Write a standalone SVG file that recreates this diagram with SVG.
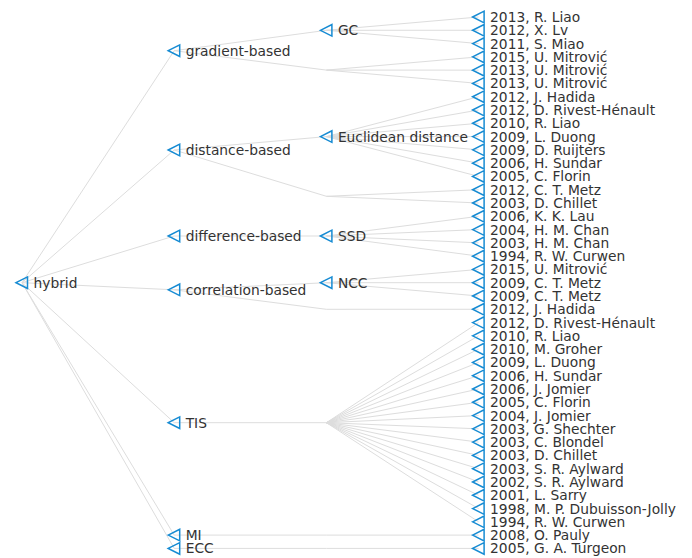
<svg xmlns="http://www.w3.org/2000/svg" xmlns:xlink="http://www.w3.org/1999/xlink" width="692" height="558" viewBox="0 0 692 558">
<style>
.link{stroke:#dddddd;stroke-width:1;fill:none}
.sym{fill:none;stroke:#168bd3;stroke-width:1.5;stroke-linejoin:miter}
text{font-family:"DejaVu Sans","Verdana",sans-serif;font-size:13.8px;fill:#333333}
</style>
<defs>
<path id="tri" class="sym" d="M-6,0 L5.5,-5.8 L5.5,5.8 Z"/>
</defs>
<rect width="692" height="558" fill="#ffffff"/>
<g id="connectors" class="link">
<line x1="22" y1="282.7" x2="174.2" y2="50.7"/>
<line x1="22" y1="282.7" x2="174.2" y2="150"/>
<line x1="22" y1="282.7" x2="174.2" y2="236"/>
<line x1="22" y1="282.7" x2="174.2" y2="289.8"/>
<line x1="22" y1="282.7" x2="174.2" y2="422.7"/>
<line x1="22" y1="282.7" x2="174.2" y2="535.1"/>
<line x1="22" y1="282.7" x2="174.2" y2="548.4"/>
<line x1="174.2" y1="50.7" x2="326.4" y2="30.3"/>
<line x1="174.2" y1="50.7" x2="326.4" y2="70.1"/>
<line x1="174.2" y1="150" x2="326.4" y2="136.6"/>
<line x1="174.2" y1="150" x2="326.4" y2="196.3"/>
<line x1="174.2" y1="236" x2="326.4" y2="236"/>
<line x1="174.2" y1="289.8" x2="326.4" y2="282.7"/>
<line x1="174.2" y1="289.8" x2="326.4" y2="309.3"/>
<line x1="174.2" y1="422.7" x2="326.4" y2="422.7"/>
<line x1="174.2" y1="535.1" x2="326.4" y2="535.1"/>
<line x1="174.2" y1="548.4" x2="326.4" y2="548.4"/>
<line x1="326.4" y1="30.3" x2="478.6" y2="17.0"/>
<line x1="326.4" y1="30.3" x2="478.6" y2="30.29"/>
<line x1="326.4" y1="30.3" x2="478.6" y2="43.57"/>
<line x1="326.4" y1="70.1" x2="478.6" y2="56.86"/>
<line x1="326.4" y1="70.1" x2="478.6" y2="70.14"/>
<line x1="326.4" y1="70.1" x2="478.6" y2="83.43"/>
<line x1="326.4" y1="136.6" x2="478.6" y2="96.71"/>
<line x1="326.4" y1="136.6" x2="478.6" y2="110.0"/>
<line x1="326.4" y1="136.6" x2="478.6" y2="123.28"/>
<line x1="326.4" y1="136.6" x2="478.6" y2="136.57"/>
<line x1="326.4" y1="136.6" x2="478.6" y2="149.85"/>
<line x1="326.4" y1="136.6" x2="478.6" y2="163.14"/>
<line x1="326.4" y1="136.6" x2="478.6" y2="176.42"/>
<line x1="326.4" y1="196.3" x2="478.6" y2="189.71"/>
<line x1="326.4" y1="196.3" x2="478.6" y2="202.99"/>
<line x1="326.4" y1="236" x2="478.6" y2="216.28"/>
<line x1="326.4" y1="236" x2="478.6" y2="229.56"/>
<line x1="326.4" y1="236" x2="478.6" y2="242.85"/>
<line x1="326.4" y1="236" x2="478.6" y2="256.13"/>
<line x1="326.4" y1="282.7" x2="478.6" y2="269.42"/>
<line x1="326.4" y1="282.7" x2="478.6" y2="282.7"/>
<line x1="326.4" y1="282.7" x2="478.6" y2="295.99"/>
<line x1="326.4" y1="309.3" x2="478.6" y2="309.27"/>
<line x1="326.4" y1="422.7" x2="478.6" y2="322.56"/>
<line x1="326.4" y1="422.7" x2="478.6" y2="335.84"/>
<line x1="326.4" y1="422.7" x2="478.6" y2="349.13"/>
<line x1="326.4" y1="422.7" x2="478.6" y2="362.41"/>
<line x1="326.4" y1="422.7" x2="478.6" y2="375.70"/>
<line x1="326.4" y1="422.7" x2="478.6" y2="388.98"/>
<line x1="326.4" y1="422.7" x2="478.6" y2="402.27"/>
<line x1="326.4" y1="422.7" x2="478.6" y2="415.55"/>
<line x1="326.4" y1="422.7" x2="478.6" y2="428.84"/>
<line x1="326.4" y1="422.7" x2="478.6" y2="442.12"/>
<line x1="326.4" y1="422.7" x2="478.6" y2="455.41"/>
<line x1="326.4" y1="422.7" x2="478.6" y2="468.69"/>
<line x1="326.4" y1="422.7" x2="478.6" y2="481.98"/>
<line x1="326.4" y1="422.7" x2="478.6" y2="495.26"/>
<line x1="326.4" y1="422.7" x2="478.6" y2="508.55"/>
<line x1="326.4" y1="422.7" x2="478.6" y2="521.83"/>
<line x1="326.4" y1="535.1" x2="478.6" y2="535.12"/>
<line x1="326.4" y1="548.4" x2="478.6" y2="548.40"/>
</g>
<g id="n-hybrid"><use xlink:href="#tri" x="22" y="282.7"/><text x="33.5" y="287.7">hybrid</text></g>
<g id="n-gradient"><use xlink:href="#tri" x="174.2" y="50.7"/><text x="185.7" y="55.7">gradient-based</text></g>
<g id="n-distance"><use xlink:href="#tri" x="174.2" y="150"/><text x="185.7" y="155">distance-based</text></g>
<g id="n-difference"><use xlink:href="#tri" x="174.2" y="236"/><text x="185.7" y="241">difference-based</text></g>
<g id="n-correlation"><use xlink:href="#tri" x="174.2" y="289.8"/><text x="185.7" y="294.8">correlation-based</text></g>
<g id="n-tis"><use xlink:href="#tri" x="174.2" y="422.7"/><text x="185.7" y="427.7">TIS</text></g>
<g id="n-mi"><use xlink:href="#tri" x="174.2" y="535.1"/><text x="185.7" y="540.1">MI</text></g>
<g id="n-ecc"><use xlink:href="#tri" x="174.2" y="548.4"/><text x="185.7" y="553.4">ECC</text></g>
<g id="n-gc"><use xlink:href="#tri" x="326.4" y="30.3"/><text x="337.9" y="35.3">GC</text></g>
<g id="n-euclid"><use xlink:href="#tri" x="326.4" y="136.6"/><text x="337.9" y="141.6">Euclidean distance</text></g>
<g id="n-ssd"><use xlink:href="#tri" x="326.4" y="236"/><text x="337.9" y="241">SSD</text></g>
<g id="n-ncc"><use xlink:href="#tri" x="326.4" y="282.7"/><text x="337.9" y="287.7">NCC</text></g>
<g id="l0"><use xlink:href="#tri" x="478.6" y="17.0"/><text x="490.1" y="22.0">2013, R. Liao</text></g>
<g id="l1"><use xlink:href="#tri" x="478.6" y="30.29"/><text x="490.1" y="35.29">2012, X. Lv</text></g>
<g id="l2"><use xlink:href="#tri" x="478.6" y="43.57"/><text x="490.1" y="48.57">2011, S. Miao</text></g>
<g id="l3"><use xlink:href="#tri" x="478.6" y="56.86"/><text x="490.1" y="61.86">2015, U. Mitrović</text></g>
<g id="l4"><use xlink:href="#tri" x="478.6" y="70.14"/><text x="490.1" y="75.14">2013, U. Mitrović</text></g>
<g id="l5"><use xlink:href="#tri" x="478.6" y="83.43"/><text x="490.1" y="88.43">2013, U. Mitrović</text></g>
<g id="l6"><use xlink:href="#tri" x="478.6" y="96.71"/><text x="490.1" y="101.71">2012, J. Hadida</text></g>
<g id="l7"><use xlink:href="#tri" x="478.6" y="110.0"/><text x="490.1" y="115.0">2012, D. Rivest-Hénault</text></g>
<g id="l8"><use xlink:href="#tri" x="478.6" y="123.28"/><text x="490.1" y="128.28">2010, R. Liao</text></g>
<g id="l9"><use xlink:href="#tri" x="478.6" y="136.57"/><text x="490.1" y="141.57">2009, L. Duong</text></g>
<g id="l10"><use xlink:href="#tri" x="478.6" y="149.85"/><text x="490.1" y="154.85">2009, D. Ruijters</text></g>
<g id="l11"><use xlink:href="#tri" x="478.6" y="163.14"/><text x="490.1" y="168.14">2006, H. Sundar</text></g>
<g id="l12"><use xlink:href="#tri" x="478.6" y="176.42"/><text x="490.1" y="181.42">2005, C. Florin</text></g>
<g id="l13"><use xlink:href="#tri" x="478.6" y="189.71"/><text x="490.1" y="194.71">2012, C. T. Metz</text></g>
<g id="l14"><use xlink:href="#tri" x="478.6" y="202.99"/><text x="490.1" y="207.99">2003, D. Chillet</text></g>
<g id="l15"><use xlink:href="#tri" x="478.6" y="216.28"/><text x="490.1" y="221.28">2006, K. K. Lau</text></g>
<g id="l16"><use xlink:href="#tri" x="478.6" y="229.56"/><text x="490.1" y="234.56">2004, H. M. Chan</text></g>
<g id="l17"><use xlink:href="#tri" x="478.6" y="242.85"/><text x="490.1" y="247.85">2003, H. M. Chan</text></g>
<g id="l18"><use xlink:href="#tri" x="478.6" y="256.13"/><text x="490.1" y="261.13">1994, R. W. Curwen</text></g>
<g id="l19"><use xlink:href="#tri" x="478.6" y="269.42"/><text x="490.1" y="274.42">2015, U. Mitrović</text></g>
<g id="l20"><use xlink:href="#tri" x="478.6" y="282.7"/><text x="490.1" y="287.7">2009, C. T. Metz</text></g>
<g id="l21"><use xlink:href="#tri" x="478.6" y="295.99"/><text x="490.1" y="300.99">2009, C. T. Metz</text></g>
<g id="l22"><use xlink:href="#tri" x="478.6" y="309.27"/><text x="490.1" y="314.27">2012, J. Hadida</text></g>
<g id="l23"><use xlink:href="#tri" x="478.6" y="322.56"/><text x="490.1" y="327.56">2012, D. Rivest-Hénault</text></g>
<g id="l24"><use xlink:href="#tri" x="478.6" y="335.84"/><text x="490.1" y="340.84">2010, R. Liao</text></g>
<g id="l25"><use xlink:href="#tri" x="478.6" y="349.13"/><text x="490.1" y="354.13">2010, M. Groher</text></g>
<g id="l26"><use xlink:href="#tri" x="478.6" y="362.41"/><text x="490.1" y="367.41">2009, L. Duong</text></g>
<g id="l27"><use xlink:href="#tri" x="478.6" y="375.70"/><text x="490.1" y="380.70">2006, H. Sundar</text></g>
<g id="l28"><use xlink:href="#tri" x="478.6" y="388.98"/><text x="490.1" y="393.98">2006, J. Jomier</text></g>
<g id="l29"><use xlink:href="#tri" x="478.6" y="402.27"/><text x="490.1" y="407.27">2005, C. Florin</text></g>
<g id="l30"><use xlink:href="#tri" x="478.6" y="415.55"/><text x="490.1" y="420.55">2004, J. Jomier</text></g>
<g id="l31"><use xlink:href="#tri" x="478.6" y="428.84"/><text x="490.1" y="433.84">2003, G. Shechter</text></g>
<g id="l32"><use xlink:href="#tri" x="478.6" y="442.12"/><text x="490.1" y="447.12">2003, C. Blondel</text></g>
<g id="l33"><use xlink:href="#tri" x="478.6" y="455.41"/><text x="490.1" y="460.41">2003, D. Chillet</text></g>
<g id="l34"><use xlink:href="#tri" x="478.6" y="468.69"/><text x="490.1" y="473.69">2003, S. R. Aylward</text></g>
<g id="l35"><use xlink:href="#tri" x="478.6" y="481.98"/><text x="490.1" y="486.98">2002, S. R. Aylward</text></g>
<g id="l36"><use xlink:href="#tri" x="478.6" y="495.26"/><text x="490.1" y="500.26">2001, L. Sarry</text></g>
<g id="l37"><use xlink:href="#tri" x="478.6" y="508.55"/><text x="490.1" y="513.55">1998, M. P. Dubuisson-Jolly</text></g>
<g id="l38"><use xlink:href="#tri" x="478.6" y="521.83"/><text x="490.1" y="526.83">1994, R. W. Curwen</text></g>
<g id="l39"><use xlink:href="#tri" x="478.6" y="535.12"/><text x="490.1" y="540.12">2008, O. Pauly</text></g>
<g id="l40"><use xlink:href="#tri" x="478.6" y="548.40"/><text x="490.1" y="553.40">2005, G. A. Turgeon</text></g>
</svg>
